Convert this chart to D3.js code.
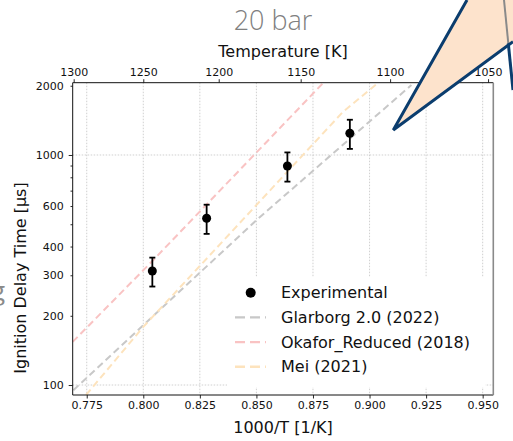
<!DOCTYPE html>
<html>
<head>
<meta charset="utf-8">
<script src="https://cdn.jsdelivr.net/npm/d3@7"></script>
<style>
  html, body { margin: 0; padding: 0; background: #fff; }
  svg { display: block; font-family: "DejaVu Sans", sans-serif; }
</style>
</head>
<body>
<svg id="chart" width="513" height="441"></svg>
<script>
// experimental points (1000/T, ignition delay in µs, abs. error)
const expInvT = [0.8040, 0.8280, 0.8637, 0.8913];
const expTau = [313, 531, 896, 1243];
const expErr = [45, 77, 130, 180];

// model curves
const glarborgInvT = [0.7691, 0.8501, 0.9185];
const glarborgTau = [95, 522, 2014];
const okaforInvT = [0.7688, 0.8040, 0.8795];
const okaforTau = [154, 346, 2056];
const meiInvT = [0.7747, 0.8000, 0.8883, 0.9037];
const meiTau = [90.5, 179, 1542, 2056];

const invTTicks = [0.775, 0.800, 0.825, 0.850, 0.875, 0.900, 0.925, 0.950];
const tempTicks = [1300, 1250, 1200, 1150, 1100, 1050];
const tauLabels = [100, 200, 300, 400, 600, 1000, 2000];
const tauTicks = [100, 200, 300, 400, 500, 600, 700, 800, 900, 1000, 2000];
const tauGrid = [100, 1000];

const seriesNames = ['Experimental', 'Glarborg 2.0 (2022)', 'Okafor_Reduced (2018)', 'Mei (2021)'];
const seriesColors = ['#000', '#c8c8c8', '#f9c3c3', '#fde3bd'];

const L = 72.7, R = 493.3, T = 82.7, B = 395;
const svg = d3.select('#chart');
svg.append('rect').attr('width', 513).attr('height', 441).attr('fill', '#fff');

const x = d3.scaleLinear().domain([0.7688, 0.9547]).range([L, R]);
const y = d3.scaleLog().domain([90.5, 2062]).range([B, T]);

svg.append('clipPath').attr('id', 'plot')
  .append('rect').attr('x', L).attr('y', T).attr('width', R - L).attr('height', B - T);

// grid
const grid = svg.append('g').attr('stroke', '#c4c4c4').attr('stroke-width', 0.8)
  .attr('stroke-dasharray', '1.5,1.5');
invTTicks.forEach(v => {
  grid.append('line').attr('x1', x(v)).attr('x2', x(v)).attr('y1', T).attr('y2', B);
});
tauGrid.forEach(v => {
  grid.append('line').attr('x1', L).attr('x2', R).attr('y1', y(v)).attr('y2', y(v));
});

// model lines
const line = d3.line().x(d => x(d[0])).y(d => y(d[1]));
const models = [
  [glarborgInvT, glarborgTau, seriesColors[1]],
  [okaforInvT, okaforTau, seriesColors[2]],
  [meiInvT, meiTau, seriesColors[3]]
];
const lineG = svg.append('g').attr('clip-path', 'url(#plot)');
models.forEach(([xs, ys, c]) => {
  lineG.append('path')
    .datum(xs.map((v, i) => [v, ys[i]]))
    .attr('d', line)
    .attr('fill', 'none')
    .attr('stroke', c)
    .attr('stroke-width', 2)
    .attr('stroke-dasharray', '7,4');
});

// legend background hides the grid behind it
svg.append('rect').attr('x', 227).attr('y', 277).attr('width', 258).attr('height', 110).attr('fill', '#fff');

// experimental points with error bars
const pts = svg.append('g');
expInvT.forEach((v, i) => {
  const cx = x(v);
  const yHi = y(expTau[i] + expErr[i]);
  const yLo = y(expTau[i] - expErr[i]);
  pts.append('line').attr('x1', cx).attr('x2', cx).attr('y1', yHi).attr('y2', yLo)
    .attr('stroke', '#000').attr('stroke-width', 1.8);
  [yHi, yLo].forEach(yy => {
    pts.append('line').attr('x1', cx - 3).attr('x2', cx + 3).attr('y1', yy).attr('y2', yy)
      .attr('stroke', '#000').attr('stroke-width', 1.8);
  });
  pts.append('circle').attr('cx', cx).attr('cy', y(expTau[i])).attr('r', 4.5).attr('fill', '#000');
});

// axes
const axBottom = svg.append('g').attr('transform', `translate(0,${B})`)
  .call(d3.axisBottom(x).tickValues(invTTicks).tickFormat(d3.format('.3f')).tickSize(3.5).tickPadding(3));
const axTop = svg.append('g').attr('transform', `translate(0,${T})`)
  .call(d3.axisTop(x).tickValues(tempTicks.map(t => 1000 / t)).tickFormat(d => Math.round(1000 / d)).tickSize(3.5).tickPadding(3));
const axLeft = svg.append('g').attr('transform', `translate(${L},0)`)
  .call(d3.axisLeft(y).tickValues(tauTicks).tickFormat(d => tauLabels.includes(d) ? d : '').tickPadding(3));
axLeft.selectAll('.tick line').attr('x2', d => (d === 100 || d === 1000) ? -4 : -2.2);

[axBottom, axTop, axLeft].forEach(a => {
  a.select('.domain').remove();
  a.selectAll('text').attr('font-size', 11).attr('fill', '#111').attr('font-family', '"DejaVu Sans", sans-serif');
  a.selectAll('.tick line').attr('stroke', '#111').attr('stroke-width', 0.9);
});

// spines
svg.append('path').attr('d', `M${R},${T}H${L}V${B}H${R}`).attr('fill', 'none')
  .attr('stroke', '#111').attr('stroke-width', 1);
svg.append('line').attr('x1', R).attr('x2', R).attr('y1', T).attr('y2', B)
  .attr('stroke', '#8a8a8a').attr('stroke-width', 1.6);

// axis titles
svg.append('text').attr('x', 283).attr('y', 433).attr('text-anchor', 'middle')
  .attr('font-size', 16).attr('fill', '#111').text('1000/T [1/K]');
svg.append('text').attr('x', 283).attr('y', 57).attr('text-anchor', 'middle')
  .attr('font-size', 16).attr('fill', '#111').text('Temperature [K]');
svg.append('text').attr('transform', 'translate(26,278) rotate(-90)').attr('text-anchor', 'middle')
  .attr('font-size', 16).attr('fill', '#111').text('Ignition Delay Time [µs]');

// legend
const leg = svg.append('g');
seriesNames.forEach((name, i) => {
  const yy = 292.7 + i * 24.7;
  if (i === 0) {
    leg.append('circle').attr('cx', 250.7).attr('cy', yy).attr('r', 5).attr('fill', '#000');
  } else {
    leg.append('line').attr('x1', 235).attr('x2', 266).attr('y1', yy).attr('y2', yy)
      .attr('stroke', seriesColors[i]).attr('stroke-width', 2.4).attr('stroke-dasharray', '10,5');
  }
  leg.append('text').attr('x', 281).attr('y', yy + 5.5).attr('font-size', 16).attr('fill', '#111').text(name);
});

// slide overlays
svg.append('text').attr('x', 273).attr('y', 30).attr('text-anchor', 'middle')
  .attr('font-family', '"Open Sans", sans-serif').attr('font-weight', 300)
  .attr('font-size', 27).attr('fill', '#808080').text('20 bar');
svg.append('text').attr('x', -9).attr('y', 300).attr('font-family', '"Open Sans", sans-serif')
  .attr('font-size', 26).attr('fill', '#8a8a8a').text('g');

svg.append('path').attr('d', 'M393.3,130L467,0H513V41.7Z').attr('fill', '#fde3cc');
svg.append('line').attr('x1', 504).attr('y1', 0).attr('x2', 508.3).attr('y2', 43.3)
  .attr('stroke', '#8a8a8a').attr('stroke-width', 2);
svg.append('path').attr('d', 'M467,0L393.3,130L513,41.7').attr('fill', 'none')
  .attr('stroke', '#0b3d6e').attr('stroke-width', 3).attr('stroke-linejoin', 'miter');
svg.append('line').attr('x1', 508.3).attr('y1', 43.3).attr('x2', 513).attr('y2', 90)
  .attr('stroke', '#0b3d6e').attr('stroke-width', 3);
</script>
</body>
</html>
